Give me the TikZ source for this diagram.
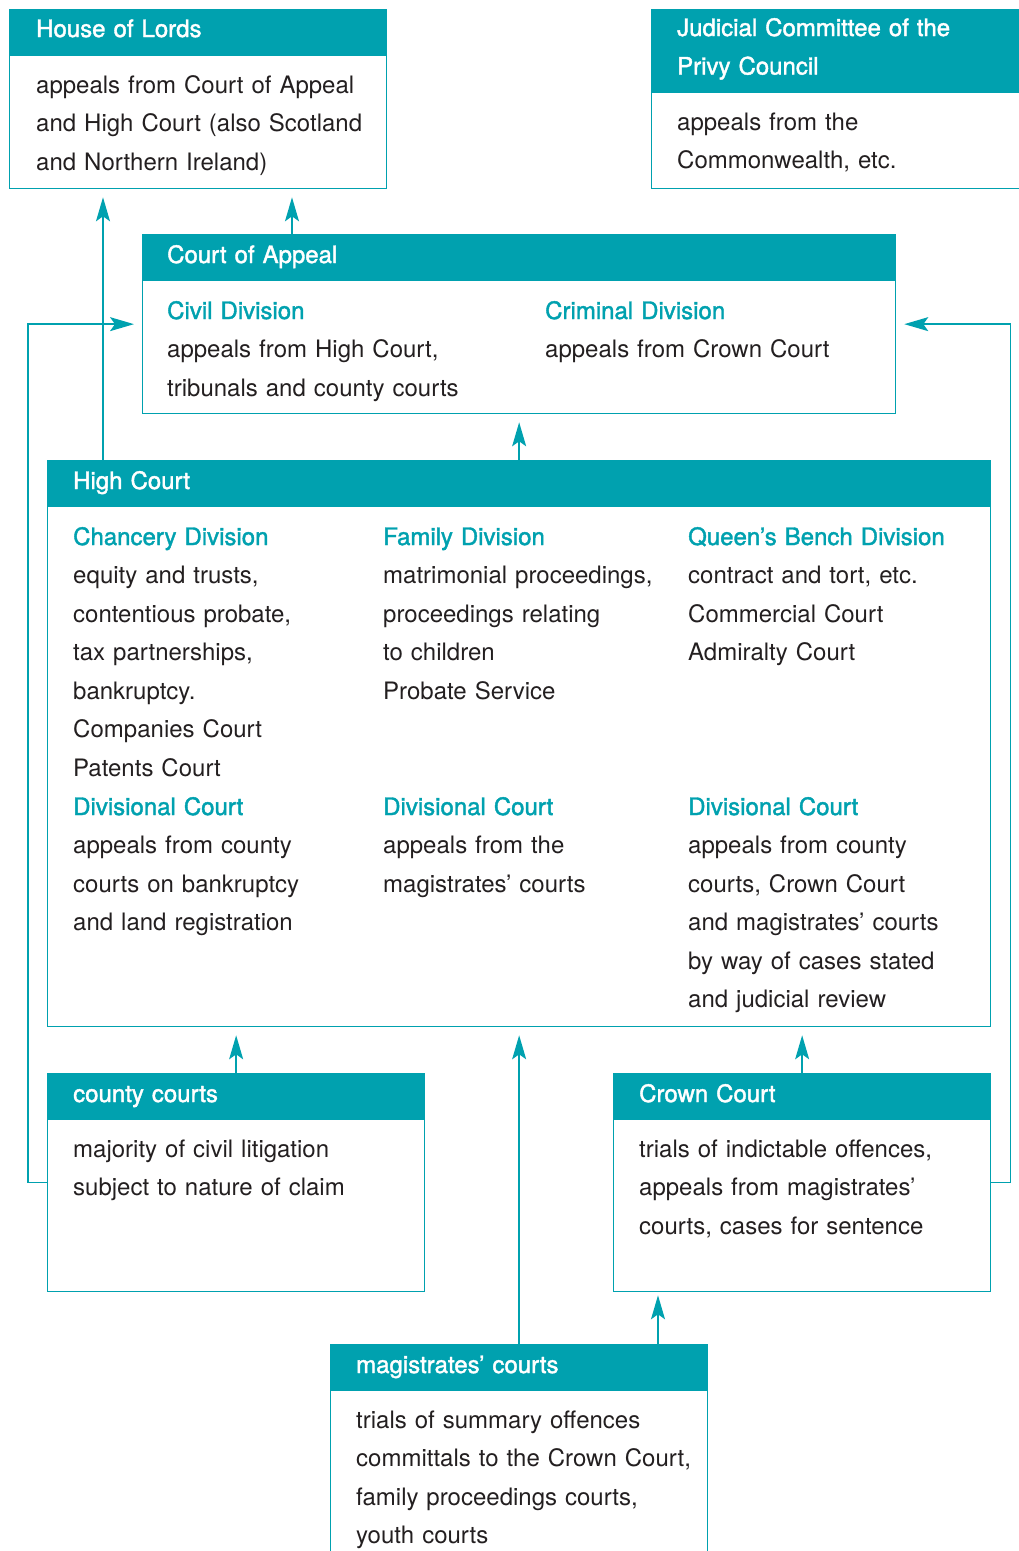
\documentclass[tikz,border=0pt]{standalone}
\usepackage{fontspec}
\setmainfont{TeX Gyre Heros}
\newfontfamily\medfont[FakeBold=1.6]{TeX Gyre Heros}
\usetikzlibrary{arrows.meta,positioning}
\definecolor{courtteal}{RGB}{0,161,175}
\definecolor{inkgrey}{RGB}{35,31,32}
\newcommand{\divhead}[1]{{\color{courtteal}\medfont #1}}

\begin{document}
\begin{tikzpicture}[x=1pt,y=-1pt,
    box/.style={draw=courtteal, line width=1.3pt, fill=white, rectangle, inner sep=0pt, anchor=north west},
    head/.style={draw=courtteal, fill=courtteal, line width=1.3pt, rectangle, inner sep=0pt, anchor=north west},
    title/.style={anchor=base west, inner sep=0pt, text=white, align=left, text width=360pt,
        font=\medfont\fontsize{24}{38.5}\selectfont},
    body/.style={anchor=base west, inner sep=0pt, text=inkgrey, align=left, text width=360pt,
        font=\fontsize{24}{38.5}\selectfont},
    arr/.style={draw=courtteal, line width=1.4pt, -{Stealth[length=24pt,width=14pt,inset=5pt]}, shorten >=8pt}]
    \useasboundingbox (0,0) rectangle (1018,1551);

    % boxes
    \node[box, minimum width=377pt, minimum height=179pt] (lords) at (9,9) {};
    \node[head, minimum width=377pt, minimum height=46pt] (lordsHead) at (lords.north west) {};
    \node[box, minimum width=380pt, minimum height=179pt] (privy) at (651,9) {};
    \node[head, minimum width=380pt, minimum height=83pt] (privyHead) at (privy.north west) {};
    \node[box, minimum width=753pt, minimum height=179pt] (appeal) at (142,234) {};
    \node[head, minimum width=753pt, minimum height=46pt] (appealHead) at (appeal.north west) {};
    \node[box, minimum width=943pt, minimum height=566pt] (high) at (47,460) {};
    \node[head, minimum width=943pt, minimum height=46pt] (highHead) at (high.north west) {};
    \node[box, minimum width=377pt, minimum height=218pt] (county) at (47,1073) {};
    \node[head, minimum width=377pt, minimum height=46pt] (countyHead) at (county.north west) {};
    \node[box, minimum width=377pt, minimum height=218pt] (crown) at (613,1073) {};
    \node[head, minimum width=377pt, minimum height=46pt] (crownHead) at (crown.north west) {};
    \node[box, minimum width=377pt, minimum height=240pt] (mag) at (330,1344) {};
    \node[head, minimum width=377pt, minimum height=46pt] (magHead) at (mag.north west) {};

    % titles
    \node[title] (lordsTitle) at (36,37) {House of Lords};
    \node[title] (privyTitle) at (677,36) {Judicial Committee of the\\Privy Council};
    \node[title] (appealTitle) at (167,263) {Court of Appeal};
    \node[title] (highTitle) at (73,489) {High Court};
    \node[title] (countyTitle) at (73,1102) {county courts};
    \node[title] (crownTitle) at (639,1102) {Crown Court};
    \node[title] (magTitle) at (356,1373) {magistrates’ courts};

    % texts
    \node[body] (lordsText) at (36,93) {appeals from Court of Appeal\\and High Court (also Scotland\\and Northern Ireland)};
    \node[body] (privyText) at (677,130) {appeals from the\\Commonwealth, etc.};
    \node[body] (civilText) at (167,319) {\divhead{Civil Division}\\appeals from High Court,\\tribunals and county courts};
    \node[body] (criminalText) at (545,319) {\divhead{Criminal Division}\\appeals from Crown Court};
    \node[body] (chanceryText) at (73,545) {\divhead{Chancery Division}\\equity and trusts,\\contentious probate,\\tax partnerships,\\bankruptcy.\\Companies Court\\Patents Court};
    \node[body] (familyText) at (383,545) {\divhead{Family Division}\\matrimonial proceedings,\\proceedings relating\\to children\\Probate Service};
    \node[body] (benchText) at (688,545) {\divhead{Queen’s Bench Division}\\contract and tort, etc.\\Commercial Court\\Admiralty Court};
    \node[body] (chanceryDiv) at (73,815) {\divhead{Divisional Court}\\appeals from county\\courts on bankruptcy\\and land registration};
    \node[body] (familyDiv) at (383,815) {\divhead{Divisional Court}\\appeals from the\\magistrates’ courts};
    \node[body] (benchDiv) at (688,815) {\divhead{Divisional Court}\\appeals from county\\courts, Crown Court\\and magistrates’ courts\\by way of cases stated\\and judicial review};
    \node[body] (countyText) at (73,1157) {majority of civil litigation\\subject to nature of claim};
    \node[body] (crownText) at (639,1157) {trials of indictable offences,\\appeals from magistrates’\\courts, cases for sentence};
    \node[body] (magText) at (356,1428) {trials of summary offences\\committals to the Crown Court,\\family proceedings courts,\\youth courts};

    % appeal routes
    \draw[arr] (high.north -| 103,0) -- (lords.south -| 103,0);
    \draw[arr] (appeal.north -| 292,0) -- (lords.south -| 292,0);
    \draw[arr] (high.north) -- (high.north |- appeal.south);
    \draw[arr] (county.west) -- ++(-19,0) |- (appeal.west);
    \draw[arr] (crown.east) -- ++(19,0) |- (appeal.east);
    \draw[arr] (county.north) -- (county.north |- high.south);
    \draw[arr] (mag.north) -- (mag.north |- high.south);
    \draw[arr] (crown.north) -- (crown.north |- high.south);
    \draw[arr, shorten >=3pt] (mag.north -| 658,0) -- (crown.south -| 658,0);
\end{tikzpicture}
\end{document}
